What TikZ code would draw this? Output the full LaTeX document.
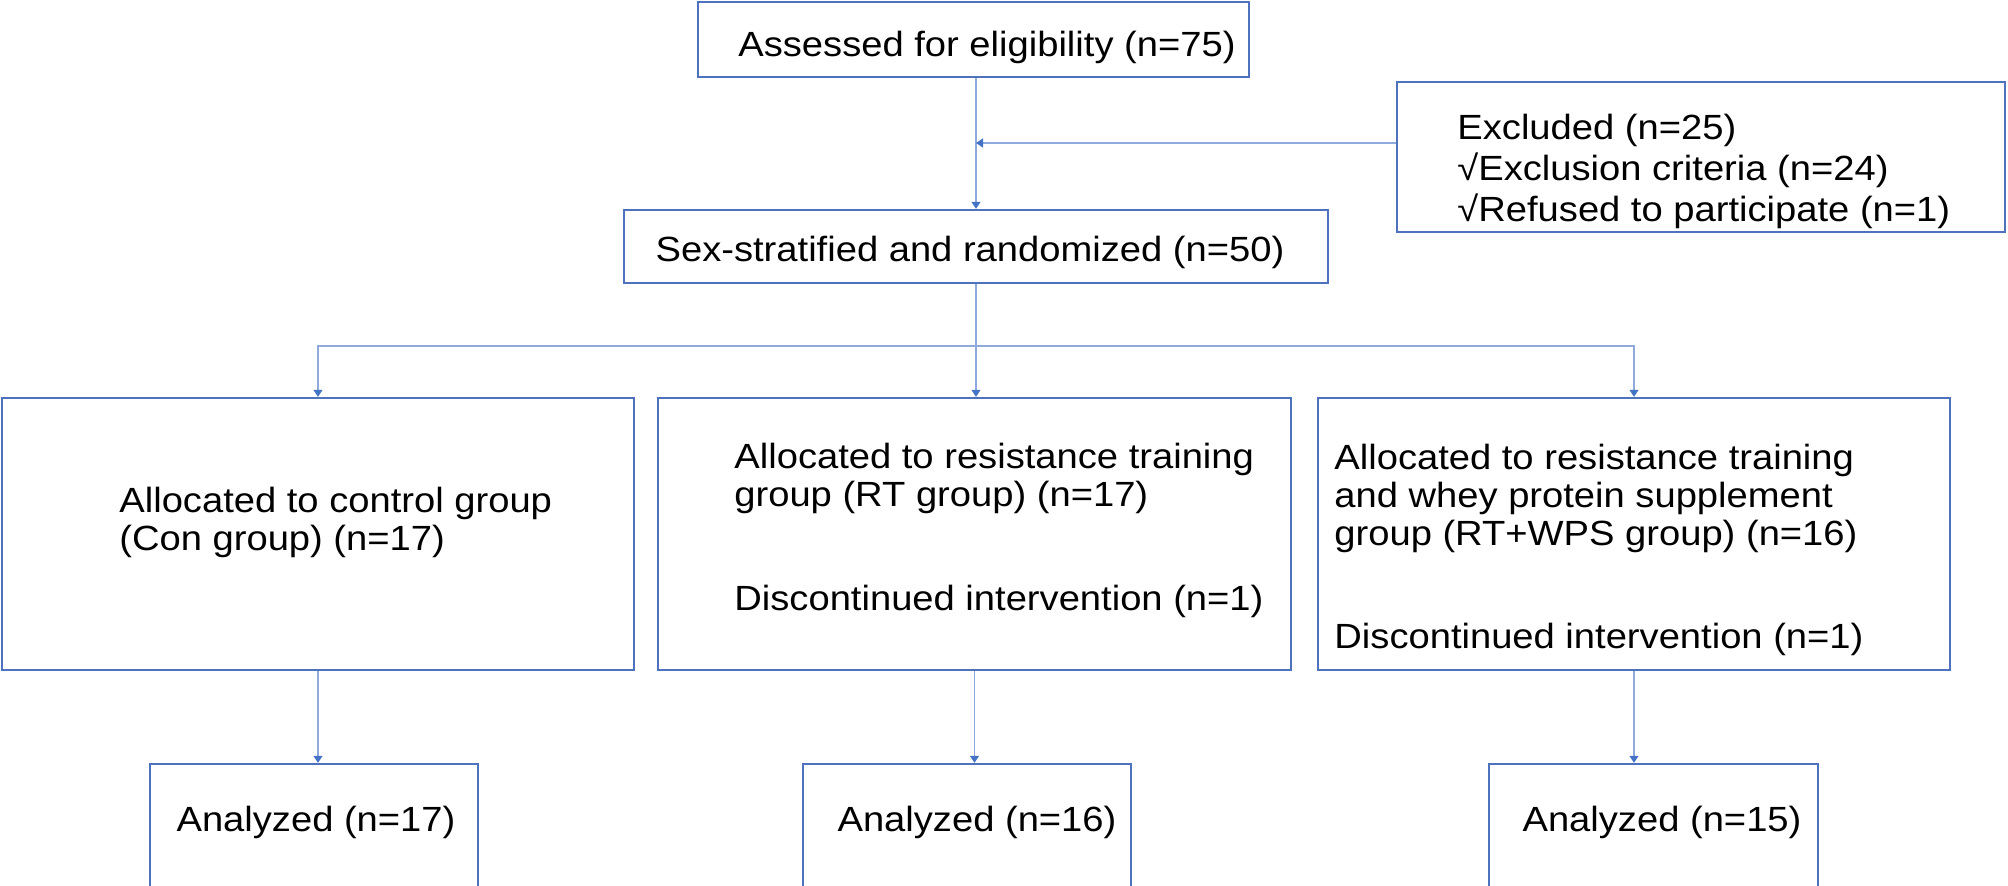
\documentclass[tikz,border=0pt]{standalone}
\usepackage{fontspec}
\setmainfont{Liberation Sans}[FakeStretch=1.09]
\usepackage{tikz}
\usetikzlibrary{arrows.meta}
\definecolor{boxblue}{RGB}{79,114,190}
\definecolor{lineblue}{RGB}{143,170,220}
\definecolor{tipblue}{RGB}{68,114,196}

\begin{document}
\begin{tikzpicture}[x=0.5pt,y=-0.5pt]
\tikzstyle{every node}+=[inner sep=0pt]
\tikzstyle{box}=[draw=boxblue,line width=1.2pt,rectangle]
\tikzstyle{txt}=[font=\fontsize{17.5}{19}\selectfont,align=left]
\tikzstyle{conn}=[draw=lineblue,line width=0.7pt,-{Triangle[length=3.5pt,width=4.5pt,color=tipblue]}]
\useasboundingbox (0,0) rectangle (2008,885);
% boxes
\node [box,minimum width=275.5pt,minimum height=37.5pt] (assess) at (973.5,39.5) {};
\node [box,minimum width=304pt,minimum height=75pt] (excl) at (1701,157) {};
\node [box,minimum width=352pt,minimum height=36.5pt] (rand) at (976,246.5) {};
\node [box,minimum width=316pt,minimum height=136pt] (con) at (318,534) {};
\node [box,minimum width=316.5pt,minimum height=136pt] (rt) at (974.5,534) {};
\node [box,minimum width=316pt,minimum height=136pt] (wps) at (1634,534) {};
\node [box,minimum width=164pt,minimum height=65.5pt] (conA) at (314,829.5) {};
\node [box,minimum width=164pt,minimum height=65.5pt] (rtA) at (967,829.5) {};
\node [box,minimum width=164.5pt,minimum height=65.5pt] (wpsA) at (1653.5,829.5) {};
% texts
\node [txt] (assess-t) at (987,47) {Assessed for eligibility (n=75)};
\node [txt,font=\fontsize{17.5}{20.5}\selectfont,anchor=west] (excl-t) at (1457,171)
  {Excluded (n=25)\\√Exclusion criteria (n=24)\\√Refused to participate (n=1)};
\node [txt] (rand-t) at (970,252) {Sex-stratified and randomized (n=50)};
\node [txt,anchor=west] (con-t) at (119,522) {Allocated to control group\\(Con group) (n=17)};
\node [txt,anchor=west] (rt-t) at (734,530)
  {Allocated to resistance training\\group (RT group) (n=17)\\[33pt]Discontinued intervention (n=1)};
\node [txt,anchor=west] (wps-t) at (1334,549.5)
  {Allocated to resistance training\\and whey protein supplement\\group (RT+WPS group) (n=16)\\[32.5pt]Discontinued intervention (n=1)};
\node [txt] (conA-t) at (316,822) {Analyzed (n=17)};
\node [txt] (rtA-t) at (977,822) {Analyzed (n=16)};
\node [txt] (wpsA-t) at (1662,822) {Analyzed (n=15)};
% connectors
\coordinate (exj) at (976,143);
\coordinate (split) at (976,346);
\draw [conn] (rand.north |- assess.south) -- (rand.north);
\draw [conn] (excl.west |- exj) -- (exj);
\draw [conn] (rand.south) -- (rand.south |- rt.north);
\draw [conn] (split) -| (con.north);
\draw [conn] (split) -| (wps.north);
\draw [conn] (con.south) -- (con.south |- conA.north);
\draw [conn] (rt.south) -- (rt.south |- rtA.north);
\draw [conn] (wps.south) -- (wps.south |- wpsA.north);
\end{tikzpicture}
\end{document}
